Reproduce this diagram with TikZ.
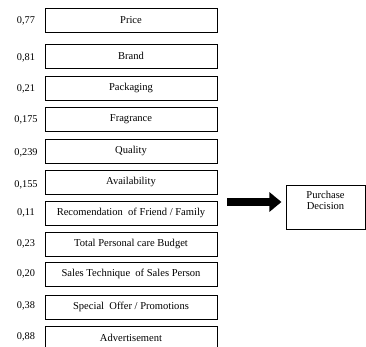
\documentclass[tikz,border=0pt]{standalone}
\usepackage{fontspec}
\setmainfont{Liberation Serif}
\usepackage{tikz}
\usetikzlibrary{arrows.meta,positioning}
\tikzset{factor/.style={draw=black, line width=0.8pt, minimum width=5.16cm, minimum height=0.72cm, inner sep=0pt, font=\fontsize{9}{9.5}\selectfont},
        weight/.style={font=\fontsize{8.8}{10}\selectfont, inner sep=0pt}}

\begin{document}
\begin{tikzpicture}[x=0.03cm,y=-0.03cm]
        \useasboundingbox (0,0) rectangle (366,347);
        \node[factor] (price) at (131,20) {Price};
        \node[factor] (brand) at (131,56) {Brand};
        \node[factor] (packaging) at (131,88) {Packaging};
        \node[factor] (fragrance) at (131,119) {Fragrance};
        \node[factor] (quality) at (131,151) {Quality};
        \node[factor] (availability) at (131,182) {Availability};
        \node[factor] (recomendation) at (131,213) {Recomendation\ \ of Friend / Family};
        \node[factor] (budget) at (131,244) {Total Personal care Budget};
        \node[factor] (technique) at (131,274) {Sales Technique\ \ of Sales Person};
        \node[factor] (offer) at (131,307) {Special\ \ Offer / Promotions};
        \node[factor] (advertisement) at (131,338) {Advertisement};
        \node[weight] (wprice) at (26,21) {0,77};
        \node[weight] (wbrand) at (26,58) {0,81};
        \node[weight] (wpackaging) at (26,89) {0,21};
        \node[weight] (wfragrance) at (26,120) {0,175};
        \node[weight] (wquality) at (26,153) {0,239};
        \node[weight] (wavailability) at (26,185) {0,155};
        \node[weight] (wrecomendation) at (26,213) {0,11};
        \node[weight] (wbudget) at (26,244) {0,23};
        \node[weight] (wtechnique) at (26,274) {0,20};
        \node[weight] (woffer) at (26,306) {0,38};
        \node[weight] (wadvertisement) at (26,337) {0,88};
        \node[factor, minimum width=2.37cm, minimum height=1.32cm, align=center] (decision) at (325.5,207) {Purchase\\Decision\\[2pt]\mbox{}};
        \coordinate (tail) at (227,202);
        \draw[black, line width=0.24cm, -{Triangle[length=0.36cm, width=0.57cm]}, shorten >=3.5] (tail) -- (tail -| decision.west);
        \end{tikzpicture}
\end{document}
